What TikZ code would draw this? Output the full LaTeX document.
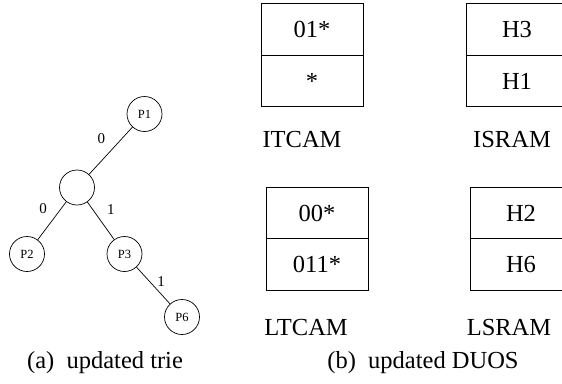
\documentclass[tikz,border=0pt]{standalone}
\usepackage{fontspec}
\setmainfont{Liberation Serif}
\usetikzlibrary{positioning}

\begin{document}
\begin{tikzpicture}[x=1pt,y=-1pt,
  trienode/.style={circle,draw,line width=0.7pt,minimum size=35pt,inner sep=0pt,font=\fontsize{12.5}{14}\selectfont},
  trieedge/.style={line width=0.7pt},
  elabel/.style={font=\fontsize{15}{17}\selectfont,inner sep=1pt},
  cell/.style={rectangle,draw,line width=0.9pt,minimum width=102pt,minimum height=51.5pt,inner sep=0pt,outer sep=0pt,font=\fontsize{24.5}{28}\selectfont},
  memname/.style={anchor=base,font=\fontsize{24.5}{28}\selectfont}]
  \clip (0,0) rectangle (562,383);

  % trie after the update
  \node[trienode] (p1) at (144.5,114) {P1};
  \node[trienode] (root) at (77,187.5) {};
  \node[trienode] (p2) at (27,254) {P2};
  \node[trienode] (p3) at (124.5,254) {P3};
  \node[trienode] (p6) at (182,317) {P6};
  \draw[trieedge] (p1) -- node[elabel,pos=0.25,left=15pt] {0} (root);
  \draw[trieedge] (root) -- node[elabel,pos=0.18,left=13pt] {0} (p2);
  \draw[trieedge] (root) -- node[elabel,pos=0.2,right=13pt] {1} (p3);
  \draw[trieedge] (p3) -- node[elabel,pos=0.4,right=6pt] {1} (p6);

  % TCAM and SRAM blocks
  \node[cell] (itcamA) at (312,29.5) {01*};
  \node[cell,below=0pt of itcamA] (itcamB) {*};
  \node[cell] (isramA) at (517,29.5) {H3};
  \node[cell,below=0pt of isramA] (isramB) {H1};
  \node[cell] (ltcamA) at (317,213) {00*};
  \node[cell,below=0pt of ltcamA] (ltcamB) {011*};
  \node[cell] (lsramA) at (521,213) {H2};
  \node[cell,below=0pt of lsramA] (lsramB) {H6};

  \node[memname] (itcam) at (302,147) {ITCAM};
  \node[memname] (isram) at (512,147) {ISRAM};
  \node[memname] (ltcam) at (306,335) {LTCAM};
  \node[memname] (lsram) at (509,335) {LSRAM};

  % sub-captions
  \node[memname] (capa) at (105,368) {(a)\hspace{0.5em}updated trie};
  \node[memname] (capb) at (423,368) {(b)\hspace{0.5em}updated DUOS};
\end{tikzpicture}
\end{document}
